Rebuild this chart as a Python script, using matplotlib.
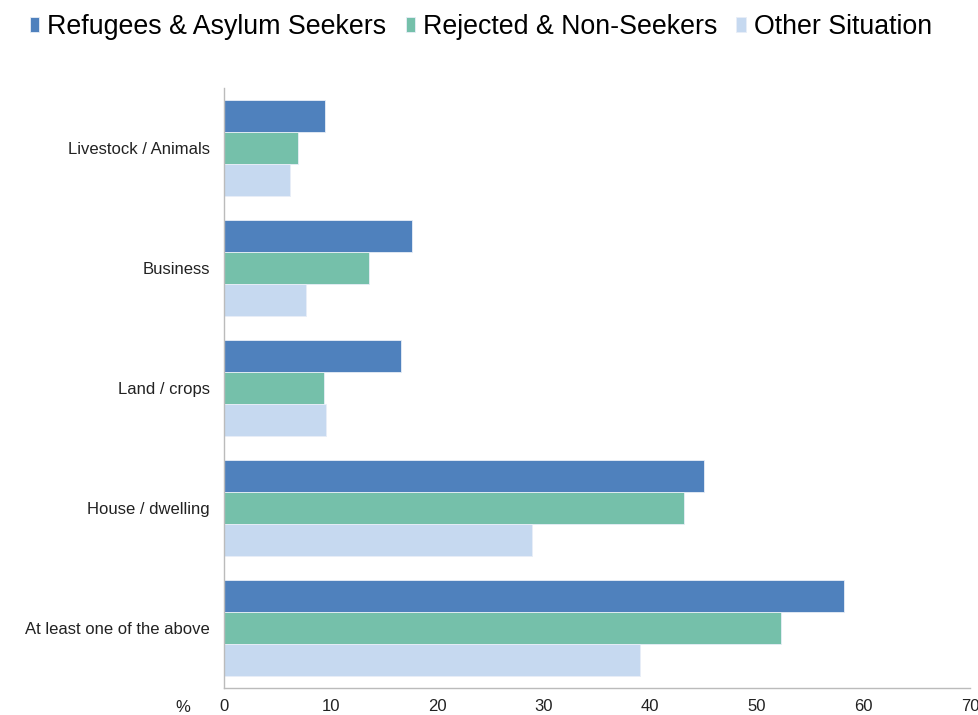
import matplotlib
matplotlib.use("Agg")
import matplotlib.pyplot as plt
import numpy as np

plt.rcParams['font.family'] = ['Liberation Sans', 'DejaVu Sans']

categories = ["Livestock / Animals", "Business", "Land / crops", "House / dwelling", "At least one of the above"]
series_names = ["Refugees & Asylum Seekers", "Rejected & Non-Seekers", "Other Situation"]
refugees = [9.5, 17.6, 16.6, 45.0, 58.2]
rejected = [6.9, 13.6, 9.4, 43.2, 52.3]
other = [6.2, 7.7, 9.6, 28.9, 39.0]
xticks = [0, 10, 20, 30, 40, 50, 60, 70]
colors = ["#4F81BD", "#75C0AA", "#C6D9F0"]

fig = plt.figure(figsize=(9.79, 7.15), dpi=100)
ax = fig.add_axes([224/979, 1-688/715, (970-224)/979, (688-88)/715])

y = np.arange(len(categories))
h = 0.265
for i, (vals, c, name) in enumerate(zip([refugees, rejected, other], colors, series_names)):
    ax.barh(y + (i - 1) * h, vals, height=h, color=c, edgecolor="#e8eef7", linewidth=0.6, label=name)

ax.set_ylim(4.5, -0.5)
ax.set_xlim(0, 70)
ax.set_yticks(y)
ax.set_yticklabels(categories, fontsize=12, color="#222222")
ax.set_xticks(xticks)
ax.set_xticklabels([str(t) for t in xticks], fontsize=12, color="#222222")
ax.tick_params(axis='both', length=0)
ax.tick_params(axis='y', pad=10)
ax.tick_params(axis='x', pad=8)
for s in ["top", "right"]:
    ax.spines[s].set_visible(False)
for s in ["left", "bottom"]:
    ax.spines[s].set_color("#bbbbbb")
    ax.spines[s].set_linewidth(1.0)

fig.text(183/979, 1-708/715, "%", fontsize=12, color="#222222", ha="center", va="center")

leg = fig.legend(loc="upper left", bbox_to_anchor=(30/979, 1-14/715), ncol=3, frameon=False,
                 borderpad=0, borderaxespad=0,
                 fontsize=19.3, handlelength=0.34, handleheight=0.5, handletextpad=0.3, columnspacing=0.72)

fig.savefig("out.png", dpi=100)
